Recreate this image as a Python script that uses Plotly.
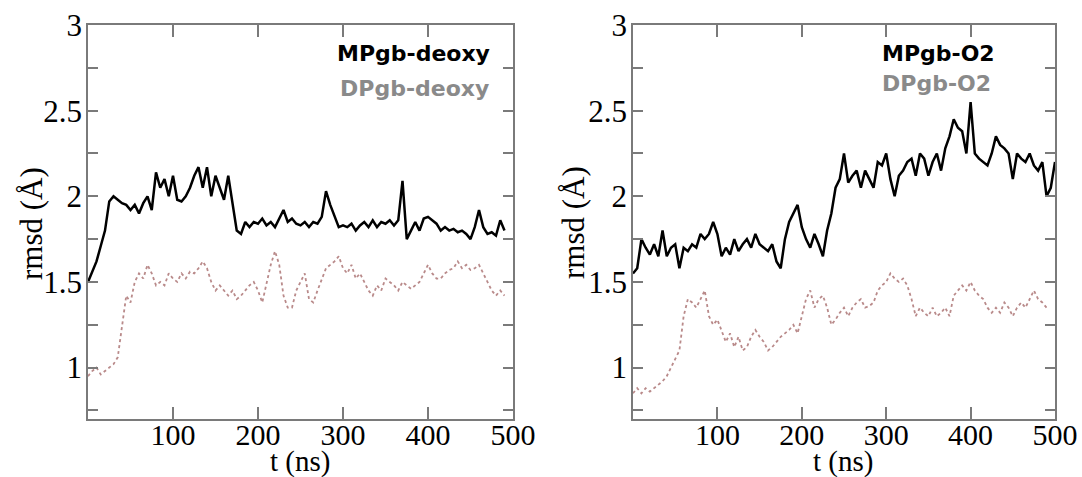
import plotly.graph_objects as go

# ---- data (5 ns sampling) ----
t_left = list(range(0, 495, 5))
mp_deoxy = [1.50, 1.56, 1.62, 1.71, 1.80, 1.97, 2.00, 1.98, 1.96, 1.95,
            1.92, 1.95, 1.90, 1.96, 2.00, 1.92, 2.14, 2.05, 2.10, 2.00,
            2.12, 1.98, 1.97, 2.00, 2.05, 2.12, 2.17, 2.05, 2.17, 2.00,
            2.12, 2.05, 1.98, 2.12, 1.95, 1.80, 1.78, 1.85, 1.82, 1.85,
            1.84, 1.87, 1.83, 1.85, 1.82, 1.87, 1.92, 1.85, 1.87, 1.84,
            1.83, 1.85, 1.82, 1.85, 1.84, 1.88, 2.03, 1.95, 1.88, 1.82,
            1.83, 1.82, 1.84, 1.80, 1.83, 1.85, 1.82, 1.86, 1.82, 1.85,
            1.84, 1.86, 1.83, 1.86, 2.09, 1.75, 1.80, 1.85, 1.80, 1.87,
            1.88, 1.86, 1.84, 1.80, 1.82, 1.80, 1.81, 1.79, 1.80, 1.78,
            1.75, 1.82, 1.92, 1.82, 1.78, 1.79, 1.77, 1.86, 1.80]
dp_deoxy = [0.95, 0.98, 1.00, 0.96, 0.98, 1.00, 1.02, 1.06, 1.25, 1.42,
            1.38, 1.50, 1.55, 1.52, 1.60, 1.55, 1.48, 1.50, 1.48, 1.55,
            1.52, 1.50, 1.55, 1.52, 1.56, 1.55, 1.58, 1.62, 1.58, 1.50,
            1.45, 1.48, 1.45, 1.42, 1.45, 1.40, 1.42, 1.45, 1.48, 1.50,
            1.45, 1.38, 1.50, 1.60, 1.68, 1.60, 1.42, 1.35, 1.35, 1.45,
            1.50, 1.55, 1.40, 1.38, 1.45, 1.52, 1.58, 1.60, 1.62, 1.65,
            1.58, 1.55, 1.60, 1.52, 1.55, 1.50, 1.45, 1.42, 1.48, 1.45,
            1.52, 1.50, 1.48, 1.45, 1.50, 1.48, 1.46, 1.48, 1.50, 1.55,
            1.60, 1.55, 1.52, 1.52, 1.55, 1.57, 1.58, 1.62, 1.58, 1.60,
            1.57, 1.58, 1.60, 1.55, 1.50, 1.45, 1.42, 1.45, 1.42]

t_right_mp = list(range(0, 505, 5))
mp_o2 = [1.55, 1.58, 1.75, 1.70, 1.66, 1.72, 1.65, 1.80, 1.65, 1.70,
         1.72, 1.58, 1.70, 1.68, 1.72, 1.70, 1.78, 1.75, 1.78, 1.85,
         1.78, 1.65, 1.70, 1.66, 1.75, 1.68, 1.72, 1.75, 1.70, 1.78,
         1.72, 1.70, 1.68, 1.72, 1.62, 1.58, 1.75, 1.85, 1.90, 1.95,
         1.82, 1.75, 1.70, 1.78, 1.72, 1.65, 1.80, 1.90, 2.05, 2.10,
         2.25, 2.08, 2.12, 2.15, 2.05, 2.15, 2.10, 2.05, 2.20, 2.18,
         2.25, 2.10, 2.00, 2.12, 2.15, 2.20, 2.22, 2.12, 2.25, 2.22,
         2.12, 2.20, 2.25, 2.15, 2.28, 2.35, 2.45, 2.40, 2.38, 2.25,
         2.55, 2.25, 2.22, 2.20, 2.18, 2.25, 2.35, 2.30, 2.28, 2.25,
         2.10, 2.25, 2.22, 2.20, 2.25, 2.18, 2.15, 2.20, 2.00, 2.05,
         2.20]
t_right_dp = list(range(0, 495, 5))
dp_o2 = [0.85, 0.88, 0.85, 0.88, 0.86, 0.88, 0.90, 0.92, 0.95, 1.00,
         1.05, 1.10, 1.30, 1.40, 1.38, 1.35, 1.40, 1.45, 1.30, 1.25,
         1.28, 1.22, 1.15, 1.20, 1.12, 1.18, 1.10, 1.12, 1.18, 1.22,
         1.18, 1.15, 1.10, 1.12, 1.15, 1.18, 1.20, 1.22, 1.25, 1.20,
         1.30, 1.40, 1.45, 1.35, 1.40, 1.42, 1.35, 1.25, 1.28, 1.32,
         1.35, 1.30, 1.35, 1.38, 1.40, 1.35, 1.36, 1.38, 1.45, 1.48,
         1.50, 1.55, 1.52, 1.50, 1.52, 1.48, 1.40, 1.30, 1.35, 1.32,
         1.30, 1.35, 1.30, 1.32, 1.35, 1.30, 1.42, 1.45, 1.48, 1.45,
         1.50, 1.45, 1.42, 1.40, 1.35, 1.32, 1.35, 1.32, 1.38, 1.35,
         1.30, 1.35, 1.38, 1.35, 1.40, 1.45, 1.40, 1.38, 1.35]

x_ticks = [100, 200, 300, 400, 500]
y_ticks = [0.75, 1, 1.25, 1.5, 1.75, 2, 2.25, 2.5, 2.75, 3]
y_text = ["", "1", "", "1.5", "", "2", "", "2.5", "", "3"]

BLACK = "#000000"
ROSY = "#b98a8a"
GRAY_TXT = "#8a8a8a"
AXIS = "#7a7a7a"
SERIF = "Liberation Serif, Times New Roman, serif"
SANS = "DejaVu Sans, sans-serif"
W, H = 1082, 477

fig = go.Figure()
fig.add_trace(go.Scatter(x=t_left, y=mp_deoxy, mode="lines", name="MPgb-deoxy",
                         line=dict(color=BLACK, width=2.5), xaxis="x", yaxis="y"))
fig.add_trace(go.Scatter(x=t_left, y=dp_deoxy, mode="lines", name="DPgb-deoxy",
                         line=dict(color=ROSY, width=1.8, dash="dot"), xaxis="x", yaxis="y"))
fig.add_trace(go.Scatter(x=t_right_mp, y=mp_o2, mode="lines", name="MPgb-O2",
                         line=dict(color=BLACK, width=2.5), xaxis="x2", yaxis="y2"))
fig.add_trace(go.Scatter(x=t_right_dp, y=dp_o2, mode="lines", name="DPgb-O2",
                         line=dict(color=ROSY, width=1.8, dash="dot"), xaxis="x2", yaxis="y2"))

def xax(domain, anchor):
    return dict(domain=domain, anchor=anchor, range=[0, 500], tickvals=x_ticks,
                ticks="inside", ticklen=12, tickcolor=AXIS, tickwidth=1.5,
                showline=True, linecolor=AXIS, linewidth=1.5, mirror="ticks",
                showgrid=False, zeroline=False, automargin=False,
                ticklabelstandoff=-12,
                tickfont=dict(family=SERIF, size=30, color="black"))

def yax(domain, anchor):
    return dict(domain=domain, anchor=anchor, range=[0.7, 3], tickvals=y_ticks,
                ticktext=y_text,
                ticks="inside", ticklen=10, tickcolor=AXIS, tickwidth=1.5,
                showline=True, linecolor=AXIS, linewidth=1.5, mirror="ticks",
                showgrid=False, zeroline=False, automargin=False,
                ticklabelstandoff=-2,
                tickfont=dict(family=SERIF, size=31, color="black"))

ydom = [(H - 419) / H, (H - 25) / H]
fig.update_layout(
    width=W, height=H,
    margin=dict(l=0, r=0, t=0, b=0),
    paper_bgcolor="white", plot_bgcolor="white",
    showlegend=False,
    xaxis=xax([88 / W, 513 / W], "y"),
    yaxis=yax(ydom, "x"),
    xaxis2=xax([633 / W, 1055 / W], "y2"),
    yaxis2=yax(ydom, "x2"),
)

# axis titles
for xc in (300, 843):
    fig.add_annotation(xref="paper", yref="paper", x=xc / W, y=(H - 461) / H,
                       text="t (ns)", showarrow=False, xanchor="center", yanchor="middle",
                       font=dict(family=SERIF, size=29, color="black"))
for xc in (31, 573):
    fig.add_annotation(xref="paper", yref="paper", x=xc / W, y=(H - 223) / H,
                       text="rmsd (Å)", textangle=-90, showarrow=False,
                       xanchor="center", yanchor="middle",
                       font=dict(family=SERIF, size=31, color="black"))

# in-plot series labels
labels = [(492, 53, "MPgb-deoxy", BLACK),
          (491, 88, "DPgb-deoxy", GRAY_TXT),
          (997, 54, "MPgb-O2", BLACK),
          (993, 84, "DPgb-O2", GRAY_TXT)]
for xr, yr, txt, col in labels:
    fig.add_annotation(xref="paper", yref="paper", x=xr / W, y=(H - yr) / H,
                       text="<b>%s</b>" % txt,
                       showarrow=False, xanchor="right", yanchor="middle",
                       font=dict(family=SANS, size=22, color=col))

fig.write_html("out.html", config={"displayModeBar": False},
               post_script="document.body.style.margin='0';document.body.style.overflow='hidden';")
